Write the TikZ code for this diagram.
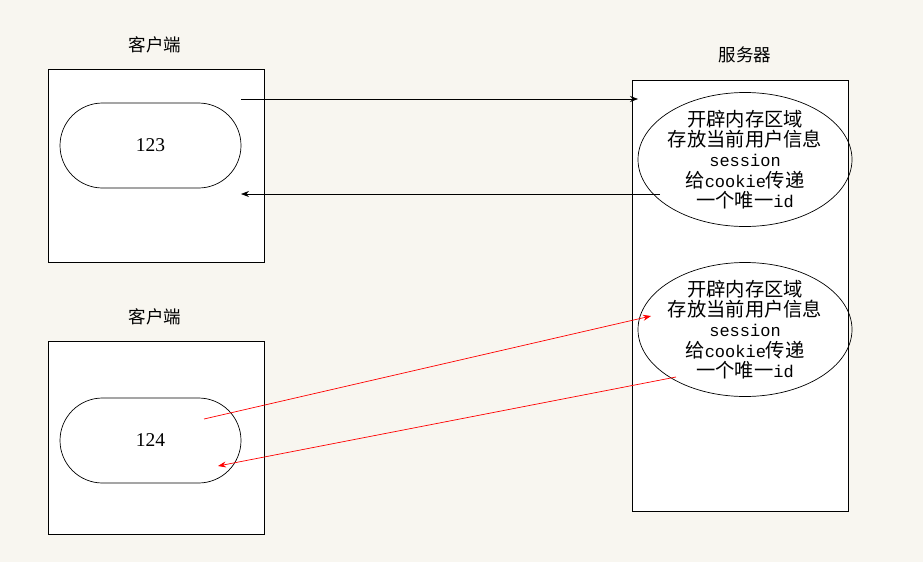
\documentclass[tikz,border=0pt]{standalone}
\usepackage{fontspec}
\setmainfont{Liberation Serif}
\newfontfamily\cjk{Noto Sans CJK SC}
\newfontfamily\mono{Liberation Mono}
\usetikzlibrary{shapes.geometric,shapes.misc,arrows.meta}
\definecolor{bgc}{HTML}{F8F6F0}
\begin{document}
\begin{tikzpicture}[x=1pt,y=-1pt,
  box/.style={draw,fill=white,line width=0.8pt},
  pill/.style={draw,rounded rectangle,minimum width=181pt,minimum height=85pt,inner sep=0pt,line width=0.7pt,font=\fontsize{19.5}{19.5}\selectfont},
  sess/.style={draw,ellipse,minimum width=214pt,minimum height=134pt,inner sep=-10pt,line width=0.7pt,align=center,font=\fontsize{19.3}{20.2}\selectfont},
  lbl/.style={font=\cjk\fontsize{17.5}{17.5}\selectfont},
  arr/.style={-{Stealth[length=8pt,width=6pt]},line width=0.7pt},
  redarr/.style={arr,red}]
\fill[bgc] (0,0) rectangle (923,562);
\useasboundingbox (0,0) rectangle (923,562);
% client 1
\node[box,minimum width=216pt,minimum height=193pt,inner sep=0pt] (c1) at (156,165.5) {};
\node[lbl] (l1) at (155,45) {客户端};
\node[pill] (p1) at (150.5,145.5) {123};
% client 2
\node[box,minimum width=216pt,minimum height=193pt,inner sep=0pt] (c2) at (156,437.5) {};
\node[lbl] (l2) at (155,317) {客户端};
\node[pill] (p2) at (150.5,440.5) {124};
% server
\node[box,minimum width=216pt,minimum height=431pt,inner sep=0pt] (s) at (740,295.5) {};
\node[lbl] (l3) at (745,55) {服务器};
\node[sess] (e1) at (745,159.5) {{\cjk 开辟内存区域}\\{\cjk 存放当前用户信息}\\{\mono\fontsize{17}{20.2}\selectfont session}\\{\cjk 给}{\mono\fontsize{17}{20.2}\selectfont cookie}{\cjk 传递}\\{\cjk 一个唯一}{\mono\fontsize{17}{20.2}\selectfont id}};
\node[sess] (e2) at (745,329.5) {{\cjk 开辟内存区域}\\{\cjk 存放当前用户信息}\\{\mono\fontsize{17}{20.2}\selectfont session}\\{\cjk 给}{\mono\fontsize{17}{20.2}\selectfont cookie}{\cjk 传递}\\{\cjk 一个唯一}{\mono\fontsize{17}{20.2}\selectfont id}};
% arrow endpoints
\coordinate (a1s) at (241,99);
\coordinate (a1e) at (638,99);
\coordinate (a2s) at (660,194);
\coordinate (a2e) at (241,194);
\coordinate (a3s) at (204,419);
\coordinate (a3e) at (651,316);
\coordinate (a4s) at (676,377);
\coordinate (a4e) at (218,466);
\draw[arr] (a1s) -- (a1e);
\draw[arr] (a2s) -- (a2e);
\draw[redarr] (a3s) -- (a3e);
\draw[redarr] (a4s) -- (a4e);
\end{tikzpicture}
\end{document}
